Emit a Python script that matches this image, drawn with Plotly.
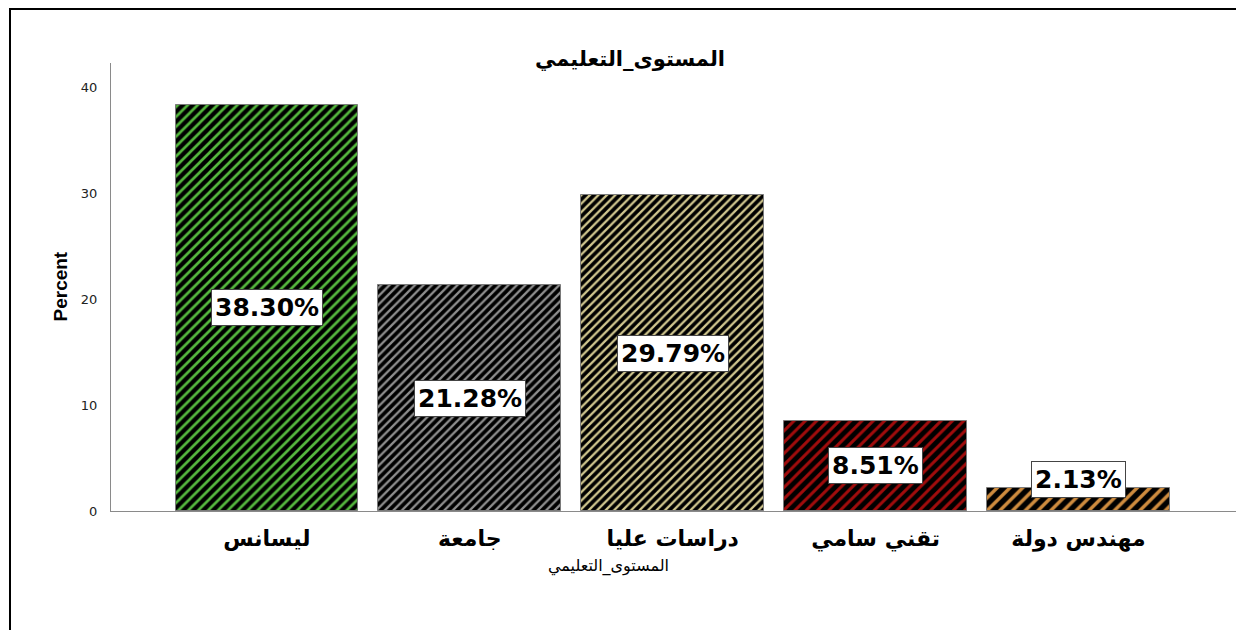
import plotly.graph_objects as go

categories = ["ليسانس", "جامعة", "دراسات عليا", "تقني سامي", "مهندس دولة"]
percents = [38.30, 21.28, 29.79, 8.51, 2.13]
value_labels = ["38.30%", "21.28%", "29.79%", "8.51%", "2.13%"]
stripe_colors = ["#55b83e", "#8e8e8e", "#d0c68e", "#a00c0c", "#cf8c3e"]
stripe_sizes = [7, 6, 6, 8, 9]
y_ticks = [0, 10, 20, 30, 40]
title_text = "المستوى_التعليمي"
y_title = "Percent"

FONT = "Arial, Liberation Sans, DejaVu Sans, sans-serif"
WIDE = "DejaVu Sans, Arial, sans-serif"

fig = go.Figure()
fig.add_trace(go.Bar(
    x=list(range(len(categories))),
    y=percents,
    width=0.9,
    marker=dict(
        color="black",
        line=dict(color="#7a7a7a", width=1),
        pattern=dict(shape="/", fgcolor=stripe_colors, bgcolor="black",
                     size=stripe_sizes, solidity=0.38, fillmode="replace"),
    ),
    showlegend=False,
    hoverinfo="skip",
))

for i, (v, t) in enumerate(zip(percents, value_labels)):
    fig.add_annotation(
        x=i, y=max(v / 2, 3.0), xref="x", yref="y", text="<b>%s</b>" % t,
        showarrow=False, bgcolor="white", bordercolor="#444", borderwidth=1,
        borderpad=3, font=dict(family=WIDE, size=25, color="black"),
    )

# chart title
fig.add_annotation(x=(630 - 111) / 1125, y=(511 - 45) / 448, xref="paper", yref="paper",
                   text="<b>%s</b>" % title_text, showarrow=False,
                   font=dict(family=WIDE, size=21, color="black"))
# x-axis title
fig.add_annotation(x=(608 - 111) / 1125, y=(511 - 578) / 448, xref="paper", yref="paper",
                   text=title_text, showarrow=False,
                   font=dict(family=WIDE, size=16, color="black"))
# y-axis title
fig.add_annotation(x=(47 - 111) / 1125, y=(511 - 287) / 448, xref="paper", yref="paper",
                   text="<b>%s</b>" % y_title, showarrow=False, textangle=-90,
                   font=dict(family="Liberation Sans Narrow, Arial, sans-serif", size=19, color="black"))

# outer frame: open path along the left and top edges only
fx0 = (10 - 111) / 1125
fy_top = (511 - 9) / 448
fy_bot = (511 - 640) / 448
fig.add_shape(type="path", xref="paper", yref="paper",
              path="M %f,%f L %f,%f L %f,%f" % (fx0, fy_bot, fx0, fy_top, 1.01, fy_top),
              line=dict(color="black", width=2))

fig.update_layout(
    width=1236, height=630,
    margin=dict(l=111, r=0, t=63, b=119),
    plot_bgcolor="white", paper_bgcolor="white",
    font=dict(family=FONT, color="black"),
    bargap=0,
)
fig.update_xaxes(
    range=[-0.768, 4.776], tickmode="array",
    tickvals=list(range(len(categories))),
    ticktext=["<b>%s</b>" % c for c in categories],
    tickfont=dict(family=WIDE, size=22, color="black"),
    showline=True, linecolor="#8a8a8a", linewidth=1,
    showgrid=False, zeroline=False, ticks="", ticklabelstandoff=8,
)
fig.update_yaxes(
    range=[0, 42.26], tickmode="array", tickvals=y_ticks,
    tickfont=dict(family=WIDE, size=13, color="#222"),
    showline=True, linecolor="#8a8a8a", linewidth=1,
    showgrid=False, zeroline=False, ticks="", ticklabelstandoff=10,
)

fig.write_html("out.html", config={"displayModeBar": False},
               post_script="document.body.style.margin='0';document.body.style.overflow='hidden';")
